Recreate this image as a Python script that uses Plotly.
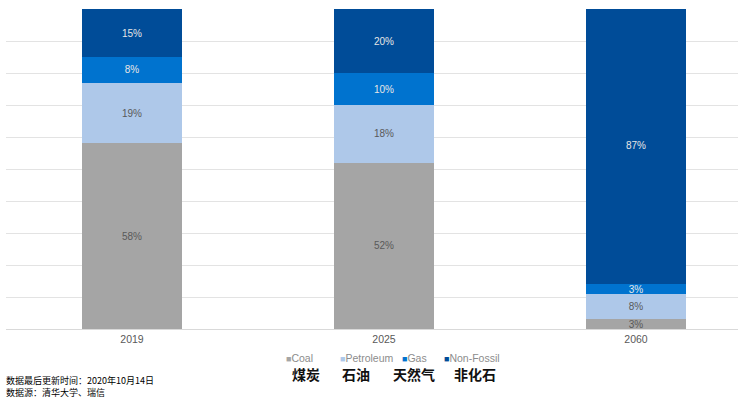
import plotly.graph_objects as go

years = ["2019", "2025", "2060"]
coal = [58, 52, 3]
petroleum = [19, 18, 8]
gas = [8, 10, 3]
nonfossil = [15, 20, 87]
series_names = ["Coal", "Petroleum", "Gas", "Non-Fossil"]
series_cn = ["煤炭", "石油", "天然气", "非化石"]
colors = ["#a5a5a5", "#aec8e9", "#0073cf", "#004c98"]
label_colors = ["#595959", "#595959", "#e6e6e6", "#e6e6e6"]
footnotes = ["数据最后更新时间：2020年10月14日", "数据源：清华大学、瑞信"]

W, H = 738, 398
L, T, B = 6, 9, 69
PW, PH = W - L, H - T - B

def px_x(x):
    return (x - L) / PW

def px_y(y):
    return (H - B - y) / PH

fig = go.Figure()
for name, vals, col, lc in zip(series_names, [coal, petroleum, gas, nonfossil], colors, label_colors):
    fig.add_trace(go.Bar(
        x=years, y=vals, name=name, marker=dict(color=col, line=dict(width=0)),
        width=0.4, text=[f"{v}%" for v in vals], textposition="inside",
        insidetextanchor="middle", textangle=0, constraintext="none",
        textfont=dict(size=10, color=lc, family="Liberation Sans, Arial"),
        hoverinfo="skip", showlegend=False,
    ))

fig.update_layout(
    barmode="stack",
    width=W, height=H,
    margin=dict(l=L, r=0, t=T, b=B, autoexpand=False),
    plot_bgcolor="white", paper_bgcolor="white",
    font=dict(family="Liberation Sans, Arial", color="#595959"),
    showlegend=False,
    xaxis=dict(type="category", range=[-0.5, -0.5 + PW / 252], showgrid=False,
               showline=True, linecolor="#d9d9d9", linewidth=1,
               ticks="", tickfont=dict(size=10.5, color="#595959")),
    yaxis=dict(range=[0, 100], dtick=10, showgrid=True, gridcolor="#e3e3e3",
               gridwidth=1, showticklabels=False, zeroline=False, showline=False),
)

# legend entries (square + label)
leg_x = [284, 338, 400, 442]
for name, col, xp in zip(series_names, colors, leg_x):
    fig.add_annotation(
        text=f"<span style='color:{col};font-size:9px'>■</span>{name}",
        x=px_x(xp), xanchor="left", y=px_y(358), yanchor="middle",
        xref="paper", yref="paper", showarrow=False,
        font=dict(size=10.5, color="#8c8c8c", family="Liberation Sans, Arial"))

cn_x = [306, 355.5, 414, 474.5]
for t, xp in zip(series_cn, cn_x):
    fig.add_annotation(text=t, x=px_x(xp), y=px_y(374), xanchor="center", yanchor="middle",
                       xref="paper", yref="paper", showarrow=False,
                       font=dict(size=14, color="#111111", family="Noto Sans CJK SC",
                                 weight="bold"))

fig.add_annotation(text="<br>".join(footnotes), x=px_x(4), xanchor="left", align="left",
                   y=px_y(386.5), yanchor="middle",
                   xref="paper", yref="paper", showarrow=False,
                   font=dict(size=9, color="#000000", family="Noto Sans CJK SC"))

fig.write_html("out.html", config={"displayModeBar": False},
               post_script="document.body.style.margin='0';")
